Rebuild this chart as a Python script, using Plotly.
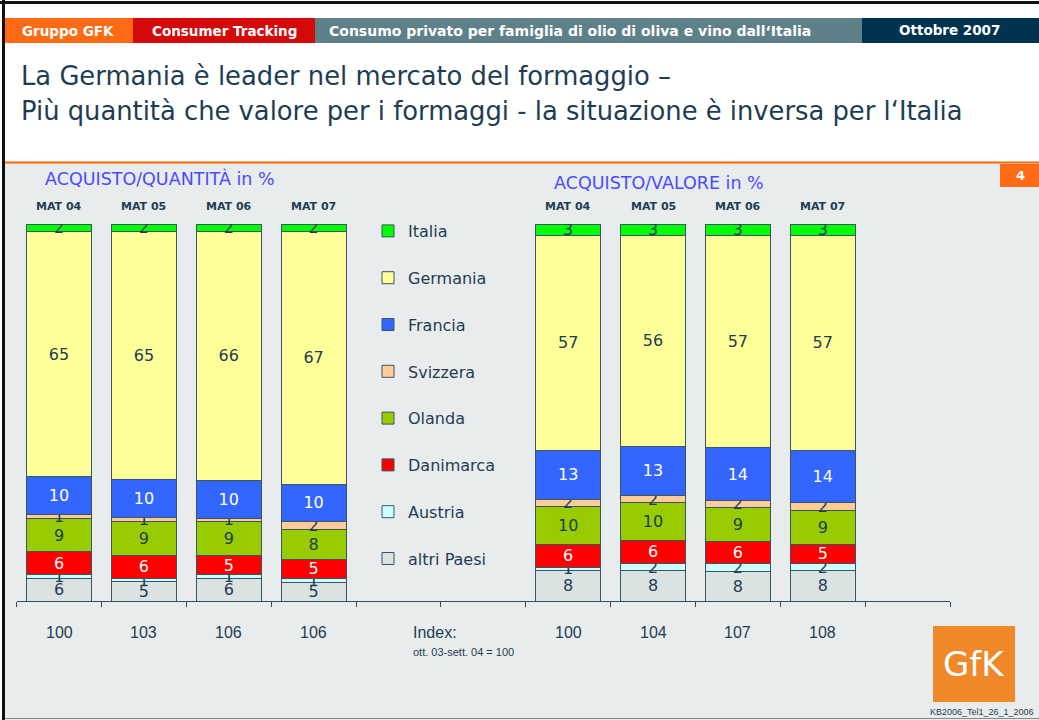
import plotly.graph_objects as go

W, H = 1039, 720

# ---------------- data ----------------
periods = ["MAT 04", "MAT 05", "MAT 06", "MAT 07"]
countries = ["altri Paesi", "Austria", "Danimarca", "Olanda", "Svizzera", "Francia", "Germania", "Italia"]

qty_altri = [6, 5, 6, 5]
qty_austria = [1, 1, 1, 1]
qty_danimarca = [6, 6, 5, 5]
qty_olanda = [9, 9, 9, 8]
qty_svizzera = [1, 1, 1, 2]
qty_francia = [10, 10, 10, 10]
qty_germania = [65, 65, 66, 67]
qty_italia = [2, 2, 2, 2]

val_altri = [8, 8, 8, 8]
val_austria = [1, 2, 2, 2]
val_danimarca = [6, 6, 6, 5]
val_olanda = [10, 10, 9, 9]
val_svizzera = [2, 2, 2, 2]
val_francia = [13, 13, 14, 14]
val_germania = [57, 56, 57, 57]
val_italia = [3, 3, 3, 3]

index_qty = [100, 103, 106, 106]
index_val = [100, 104, 107, 108]

qty = [qty_altri, qty_austria, qty_danimarca, qty_olanda, qty_svizzera, qty_francia, qty_germania, qty_italia]
val = [val_altri, val_austria, val_danimarca, val_olanda, val_svizzera, val_francia, val_germania, val_italia]

# ---------------- styles ----------------
colors = ["#DAE2E2", "#CCFFFF", "#FF0000", "#99CC00", "#FFCC99", "#3366FF", "#FFFF99", "#00FF00"]
txtcol = ["#1E3D52", "#1E3D52", "#FFFFFF", "#1E3D52", "#1E3D52", "#FFFFFF", "#1E3D52", "#1E3D52"]
DARK = "#1E3D52"
FONT = "DejaVu Sans"

left_x = [0, 1, 2, 3]
right_x = [6, 7, 8, 9]

def px(x):
    return x / W

def py(y):
    return 1 - y / H

fig = go.Figure()
n = len(countries)
for i, c in enumerate(countries):
    fig.add_trace(go.Bar(
        name=c,
        legendgroup=c,
        legendrank=n - i,
        x=left_x + right_x,
        y=qty[i] + val[i],
        text=[str(v) for v in qty[i] + val[i]],
        textposition="inside",
        insidetextanchor="middle",
        textangle=0,
        textfont=dict(family=FONT, size=16, color=txtcol[i]),
        marker=dict(color=colors[i], line=dict(color="#3A5566", width=1)),
        width=0.765,
        hovertemplate=c + ": %{y}<extra></extra>",
    ))

fig.update_layout(
    width=W, height=H,
    barmode="stack", barnorm="percent",
    margin=dict(l=0, r=0, t=0, b=0),
    paper_bgcolor="white",
    plot_bgcolor="rgba(0,0,0,0)",
    uniformtext=dict(minsize=16, mode="show"),
    font=dict(family=FONT, color=DARK),
    showlegend=True,
    legend=dict(
        x=px(368), y=py(214), xanchor="left", yanchor="top",
        traceorder="grouped", tracegroupgap=23,
        font=dict(family=FONT, size=16, color=DARK),
        bgcolor="rgba(0,0,0,0)", borderwidth=0,
    ),
    xaxis=dict(
        domain=[px(16.6), px(950)], range=[-0.5, 10.5],
        tickvals=[i - 0.5 for i in range(12)], ticktext=[""] * 12,
        ticks="outside", ticklen=5, tickcolor="#2F4F60",
        showline=True, linecolor="#2F4F60", linewidth=1,
        showgrid=False, zeroline=False, fixedrange=True,
    ),
    yaxis=dict(
        domain=[py(601), py(224)], range=[0, 100],
        visible=False, showgrid=False, fixedrange=True,
    ),
)

shapes = []
# slide background
shapes.append(dict(type="rect", xref="paper", yref="paper", x0=px(5), x1=px(1039), y0=0, y1=py(163),
                   fillcolor="#E9ECED", line=dict(width=0), layer="below"))
# orange separator
shapes.append(dict(type="line", xref="paper", yref="paper", x0=px(5), x1=1, y0=py(162.5), y1=py(162.5),
                   line=dict(color="#FF6600", width=2)))
# black frame
shapes.append(dict(type="line", xref="paper", yref="paper", x0=0, x1=1, y0=py(2.5), y1=py(2.5),
                   line=dict(color="#111111", width=3)))
shapes.append(dict(type="line", xref="paper", yref="paper", x0=px(3.5), x1=px(3.5), y0=0, y1=1,
                   line=dict(color="#111111", width=3)))
shapes.append(dict(type="line", xref="paper", yref="paper", x0=px(5), x1=1, y0=py(718.5), y1=py(718.5),
                   line=dict(color="#888888", width=1)))
# header strips
strips = [(5, 133, "#FF6A13"), (133, 315, "#D40A0A"), (315, 862, "#5E8089"), (862, 1039, "#003350")]
for x0, x1, col in strips:
    shapes.append(dict(type="rect", xref="paper", yref="paper", x0=px(x0), x1=px(x1), y0=py(43), y1=py(18),
                       fillcolor=col, line=dict(width=0)))
# page badge
shapes.append(dict(type="rect", xref="paper", yref="paper", x0=px(1000), x1=1, y0=py(187), y1=py(164),
                   fillcolor="#FF6A13", line=dict(width=0)))
# GfK logo block
shapes.append(dict(type="rect", xref="paper", yref="paper", x0=px(933), x1=px(1015), y0=py(702), y1=py(626),
                   fillcolor="#F0882A", line=dict(width=0)))

ann = []
def T(x, y, text, size, color=DARK, bold=False, xanchor="left", family=FONT, xref="paper"):
    t = "<b>" + text + "</b>" if bold else text
    ann.append(dict(x=x if xref != "paper" else px(x), y=py(y), xref=xref, yref="paper", text=t,
                    showarrow=False, xanchor=xanchor, yanchor="middle",
                    font=dict(family=family, size=size, color=color)))

# header texts
T(68, 31, "Gruppo GFK", 13.5, "white", True, "center")
T(224, 31, "Consumer Tracking", 13.5, "white", True, "center")
T(570, 31, "Consumo privato per famiglia di olio di oliva e vino dall‘Italia", 14, "white", True, "center")
T(949, 30, "Ottobre 2007", 13.5, "white", True, "center")
# title
T(19, 76, "La Germania è leader nel mercato del formaggio –", 25.8)
T(19, 111, "Più quantità che valore per i formaggi - la situazione è inversa per l‘Italia", 25.8)
# badge
T(1020, 175, "4", 13, "white", True, "center")
# sub-titles
T(43, 178, "ACQUISTO/QUANTITÀ in %", 17.5, "#4B4BFF")
T(552, 183, "ACQUISTO/VALORE in %", 17.5, "#4B4BFF")
# period labels
for xs in (left_x, right_x):
    for xi, p in zip(xs, periods):
        T(xi, 206, p, 11, DARK, True, "center", xref="x")
# index labels
NARROW = "Liberation Sans Narrow, Liberation Sans, DejaVu Sans Condensed"
for xi, v in zip(left_x, index_qty):
    T(xi, 632, str(v), 16, DARK, False, "center", NARROW, xref="x")
for xi, v in zip(right_x, index_val):
    T(xi, 632, str(v), 16, DARK, False, "center", NARROW, xref="x")
T(411, 632, "Index:", 16, DARK, False, "left", NARROW)
T(411, 652, "ott. 03-sett. 04 = 100", 11, DARK, False, "left", NARROW)
# logo text
T(974, 664, "GfK", 34, "white", False, "center", "DejaVu Sans")
T(982, 712, "KB2006_Tel1_26_1_2006", 9, DARK, False, "center", NARROW)

fig.update_layout(shapes=shapes, annotations=ann)
fig.write_html(
    "out.html",
    config={"displayModeBar": False},
    post_script="document.body.style.margin='0px';document.body.style.overflow='hidden';",
)
